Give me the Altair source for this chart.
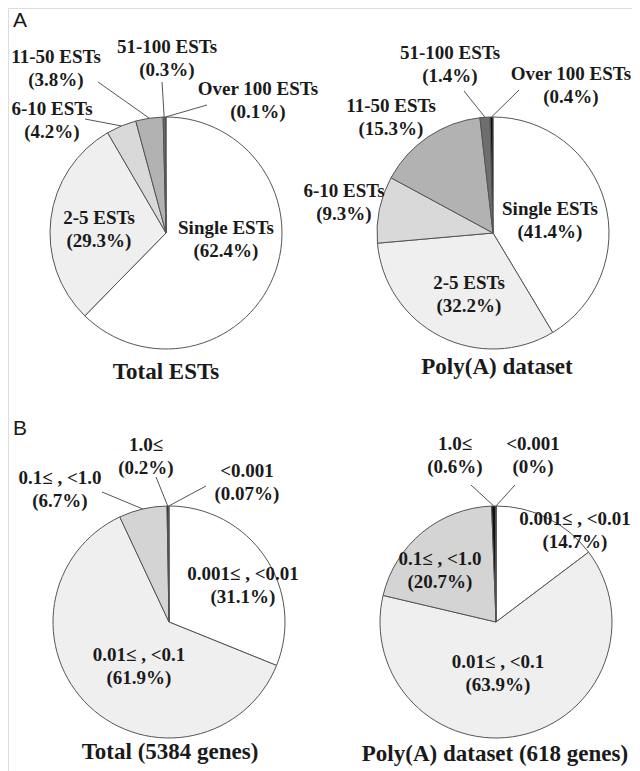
import math
import altair as alt
import pandas as pd

# ---------------- data ----------------
est_categories = ["Single ESTs", "2-5 ESTs", "6-10 ESTs", "11-50 ESTs", "51-100 ESTs", "Over 100 ESTs"]
total_est_pct = [62.4, 29.3, 4.2, 3.8, 0.3, 0.1]
polya_est_pct = [41.4, 32.2, 9.3, 15.3, 1.4, 0.4]

pval_categories = ["0.001\u2264 , <0.01", "0.01\u2264 , <0.1", "0.1\u2264 , <1.0", "1.0\u2264", "<0.001"]
total_gene_pct = [31.1, 61.9, 6.7, 0.2, 0.07]
polya_gene_pct = [14.7, 63.9, 20.7, 0.6, 0.0]

panel_titles = ["Total ESTs", "Poly(A) dataset", "Total (5384 genes)", "Poly(A) dataset (618 genes)"]
panel_letters = ["A", "B"]

# ---------------- styles / layout ----------------
OFF = 8  # page margin
SERIF = "'Liberation Serif', 'Times New Roman', 'DejaVu Serif', serif"
SANS = "'Liberation Sans', Arial, sans-serif"
EST_FILL = ["#ffffff", "#efefef", "#d9d9d9", "#b2b2b2", "#6e6e6e", "#111111"]
PVAL_FILL = ["#ffffff", "#efefef", "#d4d4d4", "#111111", "#000000"]
R = 116
CENTERS = [(166, 233), (493, 233), (169, 622), (496, 622)]
LINE_GAP = 23

# label block centres (page px) per pie, per category
LABEL_POS = [
    [(226, 239), (99, 229), (52, 120), (56, 68), (167, 58), (258, 100)],
    [(550, 220), (469, 294), (344, 202), (391, 117), (450, 64), (571, 85)],
    [(243, 585), (139, 666), (60, 489), (146, 456), (247, 482)],
    [(575, 530), (498, 673), (440, 570), (455, 455), (533, 455)],
]
# leader line outer ends (page px): (pie, category index) -> point
LEADERS = {
    (0, 2): (85, 119), (0, 3): (98, 82), (0, 4): (162, 82), (0, 5): (207, 105),
    (1, 4): (464, 91), (1, 5): (519, 90),
    (2, 2): (102, 492), (2, 3): (156, 477), (2, 4): (206, 486),
    (3, 3): (471, 485), (3, 4): (515, 485),
}
TITLE_POS = [(166, 372), (497, 367), (170, 752), (495, 754)]
LETTER_POS = [(20, 21), (20, 429)]

pies = [
    (est_categories, total_est_pct, EST_FILL),
    (est_categories, polya_est_pct, EST_FILL),
    (pval_categories, total_gene_pct, PVAL_FILL),
    (pval_categories, polya_gene_pct, PVAL_FILL),
]


def fmt(v):
    return f"{v:g}"


layers = []
text_rows = []
rule_rows = []
for i, (cats, vals, fills) in enumerate(pies):
    cx, cy = CENTERS[i]
    df = pd.DataFrame({"cat": cats, "pct": vals, "ord": list(range(len(cats))), "fill": fills})
    arc = (
        alt.Chart(df)
        .mark_arc(outerRadius=R, stroke="#555555", strokeWidth=1)
        .encode(
            theta=alt.Theta("pct:Q", stack="normalize"),
            order=alt.Order("ord:Q"),
            color=alt.Color("fill:N", scale=None, legend=None),
            x=alt.value(cx - OFF),
            y=alt.value(cy - OFF),
        )
    )
    layers.append(arc)

    total = sum(vals)
    cum = 0.0
    for j, (c, v) in enumerate(zip(cats, vals)):
        mid = (cum + v / 2) / total
        cum += v
        lx, ly = LABEL_POS[i][j]
        text_rows.append({"x": lx - OFF, "y": ly - OFF - LINE_GAP / 2, "t": c})
        text_rows.append({"x": lx - OFF, "y": ly - OFF + LINE_GAP / 2, "t": f"({fmt(v)}%)"})
        if (i, j) in LEADERS:
            ox, oy = LEADERS[(i, j)]
            ang = 2 * math.pi * mid
            ix = cx + R * math.sin(ang)
            iy = cy - R * math.cos(ang)
            rule_rows.append({"x": ox - OFF, "y": oy - OFF, "x2": ix - OFF, "y2": iy - OFF})

title_rows = [{"x": x - OFF, "y": y - OFF, "t": t} for (x, y), t in zip(TITLE_POS, panel_titles)]
letter_rows = [{"x": x - OFF, "y": y - OFF, "t": t} for (x, y), t in zip(LETTER_POS, panel_letters)]

rules = (
    alt.Chart(pd.DataFrame(rule_rows))
    .mark_rule(color="#555555", strokeWidth=1)
    .encode(
        x=alt.X("x:Q", scale=None, axis=None),
        y=alt.Y("y:Q", scale=None, axis=None),
        x2="x2:Q",
        y2="y2:Q",
    )
)

labels = (
    alt.Chart(pd.DataFrame(text_rows))
    .mark_text(font=SERIF, fontWeight="bold", fontSize=19, color="#1a1a1a", baseline="middle", align="center")
    .encode(x=alt.X("x:Q", scale=None, axis=None), y=alt.Y("y:Q", scale=None, axis=None), text="t:N")
)

titles = (
    alt.Chart(pd.DataFrame(title_rows))
    .mark_text(font=SERIF, fontWeight="bold", fontSize=23, color="#1a1a1a", baseline="middle", align="center")
    .encode(x=alt.X("x:Q", scale=None, axis=None), y=alt.Y("y:Q", scale=None, axis=None), text="t:N")
)

letters = (
    alt.Chart(pd.DataFrame(letter_rows))
    .mark_text(font=SANS, fontSize=21, color="#1a1a1a", baseline="middle", align="center")
    .encode(x=alt.X("x:Q", scale=None, axis=None), y=alt.Y("y:Q", scale=None, axis=None), text="t:N")
)

chart = (
    alt.layer(*layers, rules, labels, titles, letters)
    .properties(width=624, height=763, autosize=alt.AutoSizeParams(type="none"), padding=0)
    .configure_view(stroke=None)
    .configure(background="#ffffff")
)

chart.save("out.html", embed_options={"renderer": "svg", "actions": False})
